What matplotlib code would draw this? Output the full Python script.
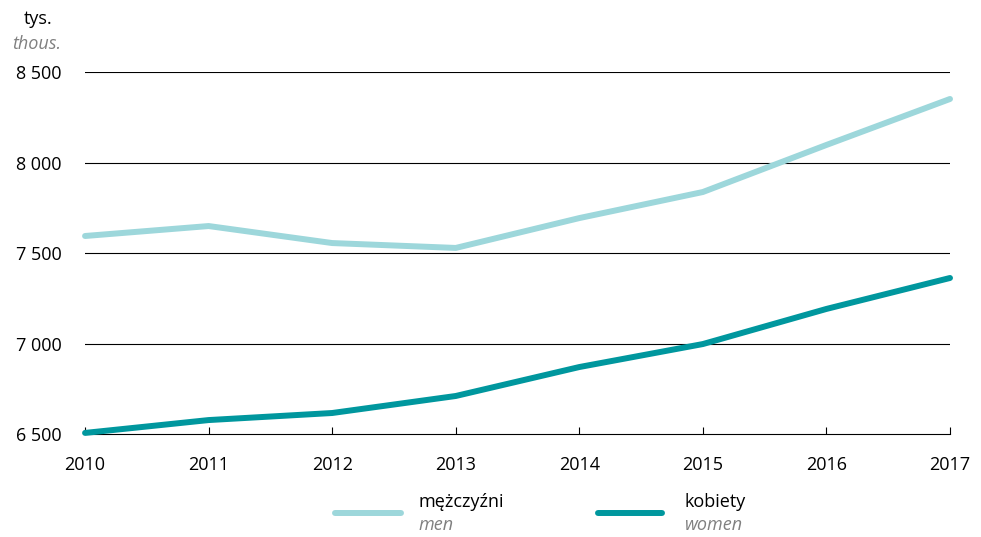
import matplotlib.pyplot as plt
from matplotlib.ticker import FuncFormatter
from matplotlib.lines import Line2D

plt.rcParams['font.family'] = ['Open Sans', 'DejaVu Sans']

years = [2010, 2011, 2012, 2013, 2014, 2015, 2016, 2017]
men = [7594, 7649, 7555, 7528, 7693, 7837, 8097, 8351]
women = [6506, 6577, 6616, 6710, 6870, 6997, 7191, 7362]
yticks = [6500, 7000, 7500, 8000, 8500]

c_men = '#9dd7db'
c_women = '#00979e'

fig = plt.figure(figsize=(9.81, 5.37), dpi=100)
ax = fig.add_axes([0.0867, 0.1918, 0.8817, 0.6741])

for y in yticks[1:]:
    ax.axhline(y, color='black', lw=0.8, zorder=1)
ax.plot(years, men, color=c_men, lw=4.3, solid_capstyle='round', zorder=3, clip_on=False)
ax.plot(years, women, color=c_women, lw=4.3, solid_capstyle='round', zorder=3, clip_on=False)

ax.set_xlim(2010, 2017)
ax.set_ylim(6500, 8500)
ax.set_xticks(years)
ax.set_yticks(yticks)
ax.yaxis.set_major_formatter(FuncFormatter(lambda v, p: f'{int(v):,}'.replace(',', ' ')))
for s in ['left', 'right', 'top']:
    ax.spines[s].set_visible(False)
ax.spines['bottom'].set_color('black')
ax.spines['bottom'].set_linewidth(0.8)
ax.tick_params(axis='x', direction='in', length=5, width=0.8, labelsize=13, pad=16)
ax.tick_params(axis='y', length=0, labelsize=13, pad=17)

fig.text(0.024, 0.965, 'tys.', fontsize=13, ha='left', va='center')
fig.text(0.012, 0.918, 'thous.', fontsize=13, style='italic', color='#808080', ha='left', va='center')

# legend
for x0, x1, col, lab, sub in [(335, 401, c_men, 'mężczyźni', 'men'),
                              (598, 662, c_women, 'kobiety', 'women')]:
    fig.add_artist(Line2D([x0 / 981, x1 / 981], [1 - 513 / 537] * 2, color=col, lw=4.3,
                          solid_capstyle='round', transform=fig.transFigure))
    tx = (x1 + 17) / 981 if col == c_men else (x1 + 23) / 981
    fig.text(tx, 1 - 502 / 537, lab, fontsize=13, ha='left', va='center')
    fig.text(tx, 1 - 525 / 537, sub, fontsize=13, style='italic', color='#808080', ha='left', va='center')

fig.savefig('out.png', dpi=100)
